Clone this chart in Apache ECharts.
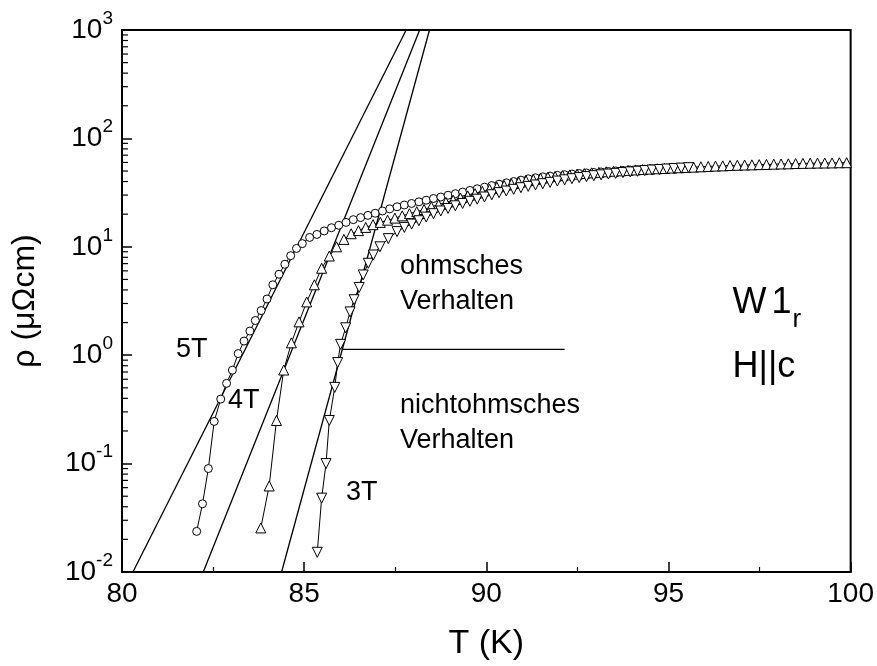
<!DOCTYPE html>
<html>
<head>
<meta charset="utf-8">
<script src="https://cdn.jsdelivr.net/npm/echarts@6/dist/echarts.min.js"></script>
<style>html,body{margin:0;padding:0;background:#fff}#c{width:877px;height:666px}</style>
</head>
<body>
<div id="c"></div>
<script>
// ---- data (T in K, rho in µΩcm) ----
const t5T = [82.05,82.21,82.37,82.53,82.71,82.87,83.03,83.19,83.35,83.51,83.66,83.82,83.98,84.14,84.31,84.47,84.63,84.79,84.95,
  85.15,85.35,85.55,85.75,85.95,86.15,86.35,86.55,86.75,86.95,87.15,87.35,87.55,87.75,87.95,88.15,88.35,88.55,88.75,88.95,
  89.15,89.35,89.55,89.75,89.95,90.15,90.35,90.55,90.75,90.95,91.15,91.35,91.55,91.75,91.95,92.15,92.35,92.55,92.75,92.95,
  93.15,93.35,93.55,93.75,93.95,94.15,94.35,94.55,94.75,94.95,95.15,95.35,95.55];
const rho5T = [0.0237,0.0426,0.090,0.245,0.394,0.55,0.728,1.035,1.35,1.67,2.09,2.58,3.30,4.46,5.58,6.90,8.28,9.66,10.7,
  12.2,13.0,14.0,15.0,15.8,16.8,17.8,18.6,19.5,20.4,21.4,22.4,23.4,24.3,25.1,26.0,26.9,27.9,28.8,29.9,
  30.9,32.0,33.1,34.3,35.5,36.7,37.8,38.9,40.0,41.2,42.4,43.3,44.2,44.9,45.6,46.2,46.9,47.4,48.0,48.5,
  49.0,49.5,50.1,50.6,51.1,51.5,52.0,52.5,52.8,53.2,53.6,54.0,54.3];

const t4T = [83.81,84.04,84.24,84.44,84.65,84.86,85.07,85.28,85.48,85.69,85.89,
  86.09,86.29,86.49,86.69,86.89,87.09,87.29,87.49,87.69,87.89,88.09,88.29,88.49,88.69,88.89,89.09,89.29,89.49,89.69,89.89,
  90.09,90.29,90.49,90.69,90.89,91.09,91.29,91.49,91.69,91.89,92.09,92.29,92.49,92.69,92.89,93.09,93.29,93.49,93.69,93.89,
  94.09,94.29,94.49,94.69,94.89,95.09,95.29,95.49,95.69,95.89,96.09,96.29,96.49,96.69,96.89,97.09,97.29,97.49,97.69,97.89,
  98.09,98.29,98.49,98.69,98.89,99.09,99.29,99.49,99.69,99.89];
const rho4T = [0.0255,0.0622,0.25,0.73,1.30,2.03,3.10,4.46,6.34,8.22,10.0,
  11.7,13.2,14.1,15.1,16.0,16.8,17.6,18.4,19.3,20.2,21.1,22.1,23.4,24.5,25.7,26.9,28.2,29.5,30.9,32.4,
  33.9,35.5,36.7,38.0,39.4,40.6,41.7,42.7,43.7,44.5,45.3,46.0,46.8,47.4,48.1,48.6,49.2,49.8,50.2,50.7,
  51.2,51.6,52.1,52.5,52.8,53.2,53.6,54.0,54.3,54.7,55.1,55.5,55.8,56.2,56.5,56.8,57.0,57.3,57.5,57.8,
  58.1,58.3,58.6,58.8,59.0,59.2,59.3,59.4,59.6,59.7];

const t3T = [85.36,85.48,85.60,85.69,85.84,85.92,86.00,86.14,86.26,86.37,86.51,86.62,86.76,86.90,87.08,87.31,87.55,
  87.75,87.95,88.15,88.35,88.55,88.75,88.95,89.15,89.35,89.55,89.75,89.95,90.15,90.35,90.55,90.75,90.95,91.15,91.35,
  91.55,91.75,91.95,92.15,92.35,92.55,92.75,92.95,93.15,93.35,93.55,93.75,93.95,94.15,94.35,94.55,94.75,94.95,95.15,95.35,95.55];
const rho3T = [0.0152,0.048,0.100,0.25,0.505,0.855,1.26,1.79,2.51,3.25,4.22,5.5,7.05,8.4,10.0,11.9,13.8,
  15.1,16.2,17.4,18.8,20.2,21.4,22.6,23.9,25.1,26.3,27.5,28.8,30.2,31.6,32.7,33.9,35.1,36.1,37.2,
  38.2,39.3,40.4,41.5,42.5,43.5,44.4,45.3,46.1,46.9,47.6,48.4,49.1,49.8,50.5,51.1,51.6,52.2,52.7,53.2,53.7];

// straight-line fits (T at rho = 0.01 and rho = 1000)
const fitRho = [0.01, 1000];
const fit5T = [80.30, 87.80];
const fit4T = [82.23, 88.17];
const fit3T = [84.38, 88.44];

// ohmic / non-ohmic boundary
const boundT = [86.03, 92.15];
const boundRho = [1.13, 1.13];

// annotations [T, rho, text]
const annT = [81.48, 82.91, 86.15, 87.63, 87.63, 87.63, 87.63, 96.76, 96.76];
const annRho = [1.12, 0.384, 0.054, 6.62, 3.10, 0.345, 0.162, 3.03, 0.769];
const annText = ['5T', '4T', '3T', 'ohmsches', 'Verhalten', 'nichtohmsches', 'Verhalten', '{m|W}{g|1}{s|r}', '{m|H||c}'];

// axis ticks
const xMin = 80, xMax = 100, xStep = 5;
const yMin = 0.01, yMax = 1000;
const yMinorTicks = [];
[0.01, 0.1, 1, 10, 100].forEach(d => { [2,3,4,5,6,7,8,9].forEach(k => yMinorTicks.push(+(d * k).toPrecision(3))); });

const FONT = 'Liberation Sans, Arial, Helvetica, sans-serif';
const zip = (a, b) => a.map((v, i) => [v, b[i]]);

const chart = echarts.init(document.getElementById('c'), null, {renderer: 'canvas'});

const dataSeries = (name, t, r, symbol, size, rotate) => ({
  name, type: 'line', data: zip(t, r), symbol, symbolSize: size, symbolRotate: rotate || 0,
  showSymbol: true, showAllSymbol: true,
  lineStyle: {color: '#000', width: 1},
  itemStyle: {color: '#fff', borderColor: '#000', borderWidth: 1},
  z: 3, animation: false
});
const plainLine = (t, r) => ({
  type: 'line', data: zip(t, r), symbol: 'none', lineStyle: {color: '#000', width: 1.3}, z: 2, animation: false
});

chart.setOption({
  animation: false,
  backgroundColor: '#fff',
  textStyle: {fontFamily: FONT, color: '#000'},
  grid: {left: 122, right: 26, top: 30, bottom: 90, show: true, borderColor: '#000', borderWidth: 2, backgroundColor: 'transparent'},
  xAxis: {
    type: 'value', min: xMin, max: xMax, interval: xStep,
    name: 'T (K)', nameLocation: 'middle', nameGap: 55,
    nameTextStyle: {fontSize: 34, color: '#000', fontFamily: FONT},
    axisLine: {lineStyle: {color: '#000', width: 2}},
    axisTick: {inside: true, length: 10, lineStyle: {color: '#000', width: 1.5}},
    minorTick: {show: true, splitNumber: 2, length: 5, lineStyle: {color: '#000', width: 1.2}},
    splitLine: {show: false},
    axisLabel: {fontSize: 28, color: '#000', margin: 8, fontFamily: FONT}
  },
  yAxis: {
    type: 'log', logBase: 10, min: yMin, max: yMax,
    name: 'ρ (μΩcm)', nameLocation: 'middle', nameGap: 81, nameRotate: 90,
    nameTextStyle: {fontSize: 32, color: '#000', fontFamily: FONT},
    axisLine: {lineStyle: {color: '#000', width: 2}},
    axisTick: {inside: true, length: 10, lineStyle: {color: '#000', width: 1.5}},
    splitLine: {show: false},
    axisLabel: {
      margin: 9, color: '#000',
      formatter: v => '{b|10}{s|' + Math.round(Math.log10(v)) + '}',
      rich: {
        b: {fontSize: 28, fontFamily: FONT, color: '#000'},
        s: {fontSize: 19, fontFamily: FONT, color: '#000', padding: [0, 0, 23, 0]}
      }
    }
  },
  series: [
    plainLine(fit5T, fitRho),
    plainLine(fit4T, fitRho),
    plainLine(fit3T, fitRho),
    plainLine(boundT, boundRho),
    dataSeries('5T', t5T, rho5T, 'circle', 8),
    dataSeries('4T', t4T, rho4T, 'triangle', 10),
    dataSeries('3T', t3T, rho3T, 'triangle', 10, 180),
    {
      type: 'custom', silent: true, z: 5, clip: false,
      data: yMinorTicks.map(v => [xMin, v]),
      renderItem: (params, api) => {
        const c = api.coord([api.value(0), api.value(1)]);
        return {type: 'line', shape: {x1: c[0], y1: c[1], x2: c[0] + 6, y2: c[1]}, style: {stroke: '#000', lineWidth: 1.2}};
      }
    },
    {
      type: 'scatter', symbolSize: 0, silent: true, z: 6,
      itemStyle: {color: '#000', opacity: 1},
      data: annT.map((t, i) => ({value: [t, annRho[i]], name: annText[i]})),
      label: {
        show: true, position: 'right', distance: 0, color: '#000', opacity: 1,
        fontSize: 27, fontFamily: FONT, textBorderWidth: 0,
        formatter: p => p.name,
        rich: {
          m: {fontSize: 36, fontFamily: FONT, color: '#000'},
          g: {fontSize: 36, fontFamily: FONT, color: '#000', padding: [0, 0, 0, 5]},
          s: {fontSize: 26, fontFamily: FONT, color: '#000', padding: [34, 0, 0, 1]}
        }
      }
    }
  ]
});
</script>
</body>
</html>
